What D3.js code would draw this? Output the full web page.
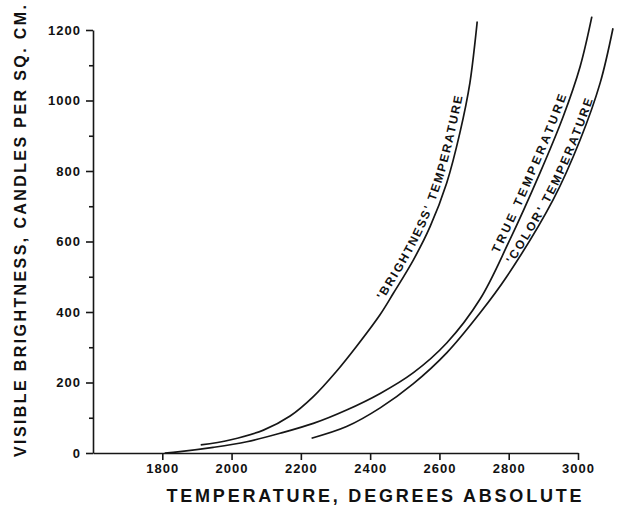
<!DOCTYPE html>
<html><head><meta charset="utf-8">
<script src="https://cdn.jsdelivr.net/npm/d3@7"></script>
<style>
body{margin:0;background:#fff;}
svg{display:block;}
text{font-family:"Liberation Sans",Arial,Helvetica,sans-serif;font-weight:bold;fill:#111;}
</style></head><body>
<svg id="chart" width="619" height="509"></svg>
<script>
// ---- data ----
const brightnessT = [1911,1995,2092,2169,2236,2303,2361,2429,2467,2525,2573,2621,2659,2688,2709];
const brightnessV = [23,37,65,105,160,232,303,393,453,548,642,766,908,1050,1224];
const trueT = [1807,1851,1947,2044,2140,2236,2332,2429,2525,2621,2717,2800,2890,2957,3006,3040];
const trueV = [0,4,16,32,56,84,122,169,228,312,436,598,794,954,1096,1238];
const colorT = [2231,2332,2429,2524,2621,2717,2794,2928,3006,3064,3101];
const colorV = [42,75,128,196,284,397,500,718,888,1050,1205];
const xTicks = [1800,2000,2200,2400,2600,2800,3000];
const yTicks = [0,200,400,600,800,1000,1200];
const yMinorTicks = [100,300,500,700,900,1100];
const curveNames = ["'BRIGHTNESS'  TEMPERATURE","TRUE   TEMPERATURE","'COLOR'  TEMPERATURE"];
const labelStartT = [2450,2782,2815];
const xTitle = "TEMPERATURE,   DEGREES   ABSOLUTE";
const yTitle = "VISIBLE  BRIGHTNESS,  CANDLES  PER  SQ.  CM.";

const svg = d3.select("#chart");
const ink = "#161616";
const x = d3.scaleLinear().domain([1600,3000]).range([93,578]);
const y = d3.scaleLinear().domain([0,1200]).range([453,30]);

const series = [
  d3.zip(brightnessT, brightnessV),
  d3.zip(trueT, trueV),
  d3.zip(colorT, colorV)
];

// axes
const gx = svg.append("g").attr("transform", `translate(0,${y(0)})`)
  .call(d3.axisBottom(x).tickValues(xTicks).tickSize(7).tickSizeOuter(0).tickPadding(4).tickFormat(d3.format("d")));
const gy = svg.append("g").attr("transform", `translate(${x(1600)},0)`)
  .call(d3.axisLeft(y).tickValues(yTicks).tickSize(7).tickSizeOuter(0).tickPadding(5).tickFormat(d3.format("d")));
const gym = svg.append("g").attr("transform", `translate(${x(1600)},0)`)
  .call(d3.axisLeft(y).tickValues(yMinorTicks).tickSize(4).tickSizeOuter(0).tickFormat(""));
gym.select(".domain").remove();
[gx,gy,gym].forEach(g=>{
  g.selectAll(".domain,line").attr("stroke", ink).attr("stroke-width", 1.6);
  g.selectAll("text").attr("fill", ink).style("font-size","13px").style("letter-spacing","1px")
   .style("font-family",'"Liberation Sans",Arial,sans-serif').style("font-weight","bold");
});

// curves
const line = d3.line().x(d=>x(d[0])).y(d=>y(d[1])).curve(d3.curveCatmullRom.alpha(0.5));
const paths = svg.append("g").selectAll("path").data(series).join("path")
  .attr("id",(d,i)=>"curve"+i)
  .attr("d", line).attr("fill","none").attr("stroke", ink).attr("stroke-width",1.7);

// curve labels on paths
const labelLen = [222,172,184];
const labelDy = [-5,-4,-2];
paths.each(function(d,i){
  const p = this, L = p.getTotalLength(), tx = x(labelStartT[i]);
  let off = 0;
  for (let s=0; s<=L; s+=0.5){ if (p.getPointAtLength(s).x >= tx){ off = s; break; } }
  svg.append("text").attr("dy",labelDy[i]).style("font-size","12px")
    .append("textPath").attr("href","#curve"+i).attr("startOffset", off)
    .attr("textLength", labelLen[i]).attr("lengthAdjust","spacing")
    .text(curveNames[i]);
});

// titles
svg.append("text").attr("x", 374).attr("y", 502).attr("text-anchor","middle")
  .style("font-size","18px").attr("textLength",415).attr("lengthAdjust","spacing").text(xTitle);
svg.append("text").attr("transform","translate(26,231) rotate(-90)").attr("text-anchor","middle")
  .style("font-size","16px").attr("textLength",452).attr("lengthAdjust","spacing").text(yTitle);
</script>
</body></html>
